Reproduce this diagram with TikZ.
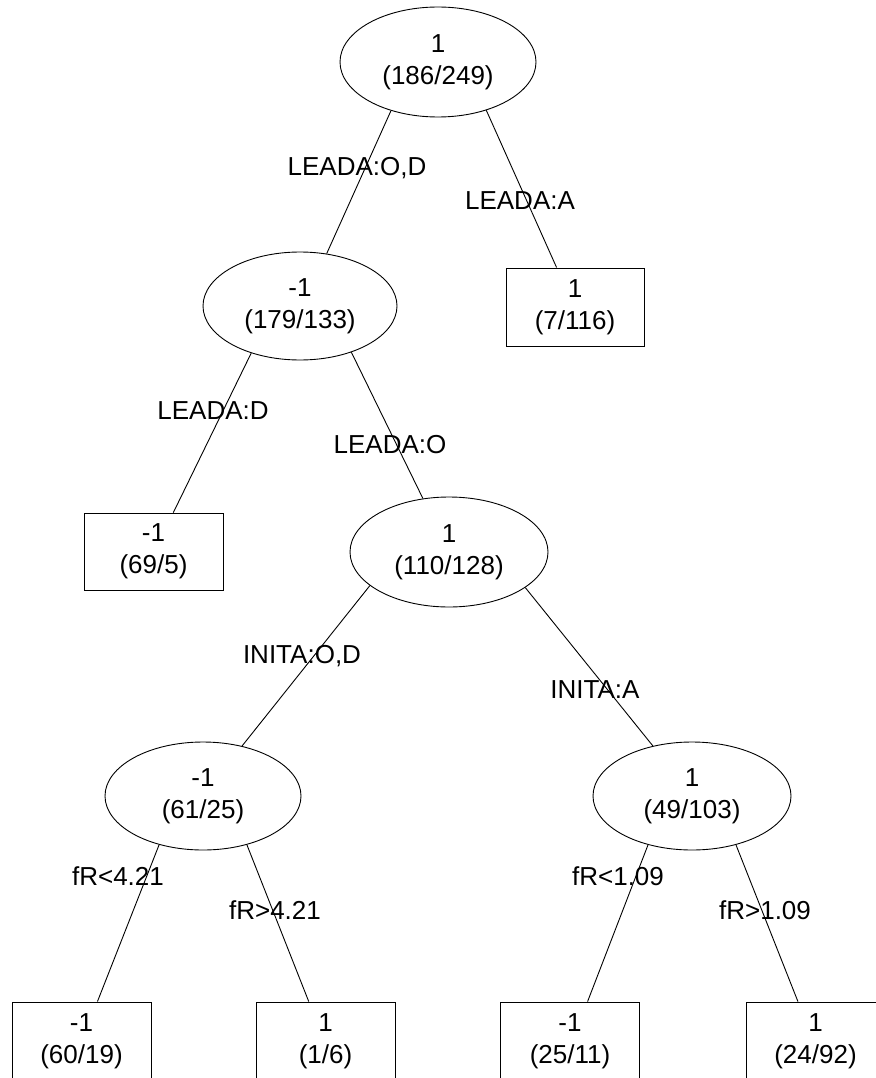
\documentclass[tikz,border=0pt]{standalone}
\usepackage{fontspec}
\setmainfont{Liberation Sans}
\usetikzlibrary{shapes.geometric}
\begin{document}
\begin{tikzpicture}[x=1pt,y=-1pt,
  every node/.style={font=\fontsize{26}{32}\selectfont, inner sep=0pt},
  inner/.style={draw, ellipse, line width=0.9pt, align=center},
  leaf/.style={draw, rectangle, line width=0.9pt, align=center, minimum width=139pt, minimum height=78pt},
  edge/.style={line width=0.9pt},
  lbl/.style={}]
\useasboundingbox (0,0) rectangle (875,1078);
% internal nodes
\node[inner, minimum width=196pt, minimum height=110pt] (root) at (438,62) {1\\(186/249)};
\node[inner, minimum width=194pt, minimum height=108pt] (n2) at (300,306) {-1\\(179/133)};
\node[inner, minimum width=198pt, minimum height=110pt] (n3) at (449,552) {1\\(110/128)};
\node[inner, minimum width=196pt, minimum height=108pt] (n4) at (203,796) {-1\\(61/25)};
\node[inner, minimum width=198pt, minimum height=108pt] (n5) at (692,796) {1\\(49/103)};
% leaves
\node[leaf, minimum width=138pt] (l1) at (575,307) {1\\(7/116)};
\node[leaf, minimum height=77pt] (l2) at (153.5,551.5) {-1\\(69/5)};
\node[leaf] (l3) at (81.5,1041) {-1\\(60/19)};
\node[leaf] (l4) at (325.5,1041) {1\\(1/6)};
\node[leaf] (l5) at (570,1041) {-1\\(25/11)};
\node[leaf] (l6) at (815.5,1041) {1\\(24/92)};
% edges
\draw[edge] (root.226) -- (n2.63);
\draw[edge] (root.315) -- (l1.115);
\draw[edge] (n2.224) -- (l2.63);
\draw[edge] (n2.318) -- (n3.116);
\draw[edge] (n3.203) -- (n4.52);
\draw[edge] (n3.335) -- (n5.128);
\draw[edge] (n4.228) -- (l3.68);
\draw[edge] (n4.312) -- (l4.113);
\draw[edge] (n5.228) -- (l5.66);
\draw[edge] (n5.312) -- (l6.114);
% labels
\node[lbl] (e1) at (357,168) {LEADA:O,D};
\node[lbl] (e2) at (520,201) {LEADA:A};
\node[lbl] (e3) at (213,411) {LEADA:D};
\node[lbl] (e4) at (390,445) {LEADA:O};
\node[lbl] (e5) at (302,656) {INITA:O,D};
\node[lbl] (e6) at (595,690) {INITA:A};
\node[lbl] (e7) at (118,876) {fR<4.21};
\node[lbl] (e8) at (275,910) {fR>4.21};
\node[lbl] (e9) at (618,876) {fR<1.09};
\node[lbl] (e10) at (765,910) {fR>1.09};
\end{tikzpicture}
\end{document}
